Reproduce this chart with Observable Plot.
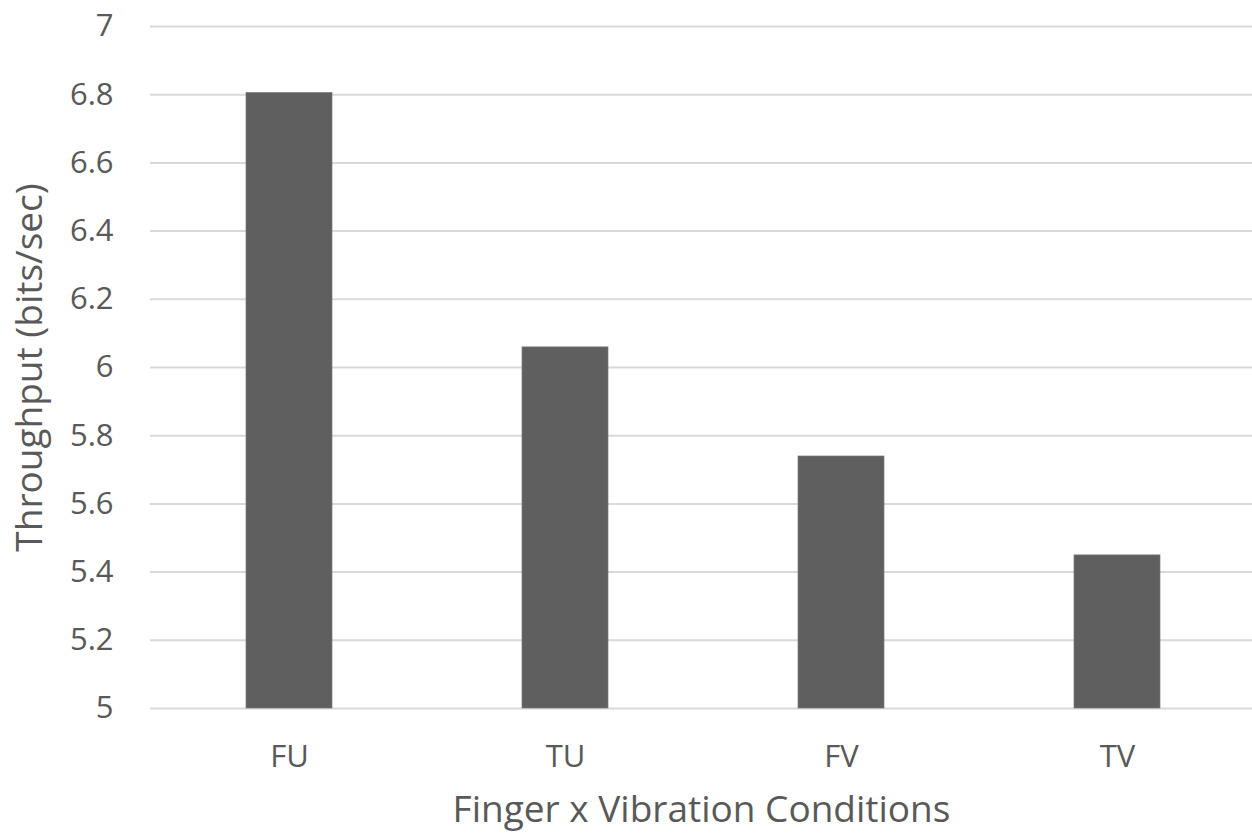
<!DOCTYPE html>
<html>
<head>
<meta charset="utf-8">
<script src="https://cdn.jsdelivr.net/npm/d3@7"></script>
<script src="https://cdn.jsdelivr.net/npm/@observablehq/plot@0.6"></script>
<style>
  html, body { margin: 0; padding: 0; background: #fff; }
  #chart svg { display: block; }
</style>
</head>
<body>
<div id="chart"></div>
<script>
const categories = ["FU", "TU", "FV", "TV"];
const throughput = [6.805, 6.059, 5.739, 5.449];
const yTicks = [5, 5.2, 5.4, 5.6, 5.8, 6, 6.2, 6.4, 6.6, 6.8, 7];
const xTitle = "Finger x Vibration Conditions";
const yTitle = "Throughput (bits/sec)";

const data = categories.map((c, i) => ({ cond: c, value: throughput[i] }));
const textColor = "#595959";
const font = "'Open Sans', sans-serif";

const chart = Plot.plot({
  width: 1252,
  height: 839,
  marginLeft: 150,
  marginRight: 0,
  marginTop: 26,
  marginBottom: 131,
  style: { fontFamily: font, color: textColor, background: "#fff", overflow: "visible" },
  x: { domain: categories, range: [150, 1256], paddingInner: 0.69, paddingOuter: 0.345, align: 0.5 },
  y: { domain: [5, 7] },
  marks: [
    Plot.ruleY(yTicks, { stroke: "#d9d9d9", strokeWidth: 2 }),
    Plot.barY(data, { x: "cond", y1: 5, y2: "value", fill: "#5f5f5f", stroke: "#7a7a7a", strokeWidth: 0.7 }),
    Plot.axisY({ ticks: yTicks, tickSize: 0, tickPadding: 37, fontSize: 31, label: null, fill: textColor, tickFormat: d => String(+d.toFixed(1)) }),
    Plot.axisX({ tickSize: 0, tickPadding: 36, fontSize: 31, label: null, fill: textColor }),
    Plot.text([xTitle], { frameAnchor: "bottom", dy: 113, fontSize: 37, fill: textColor, textAnchor: "middle" }),
    Plot.text([yTitle], { frameAnchor: "left", dx: -120, rotate: -90, fontSize: 37, fill: textColor, textAnchor: "middle" })
  ]
});
document.getElementById("chart").appendChild(chart);
</script>
</body>
</html>
